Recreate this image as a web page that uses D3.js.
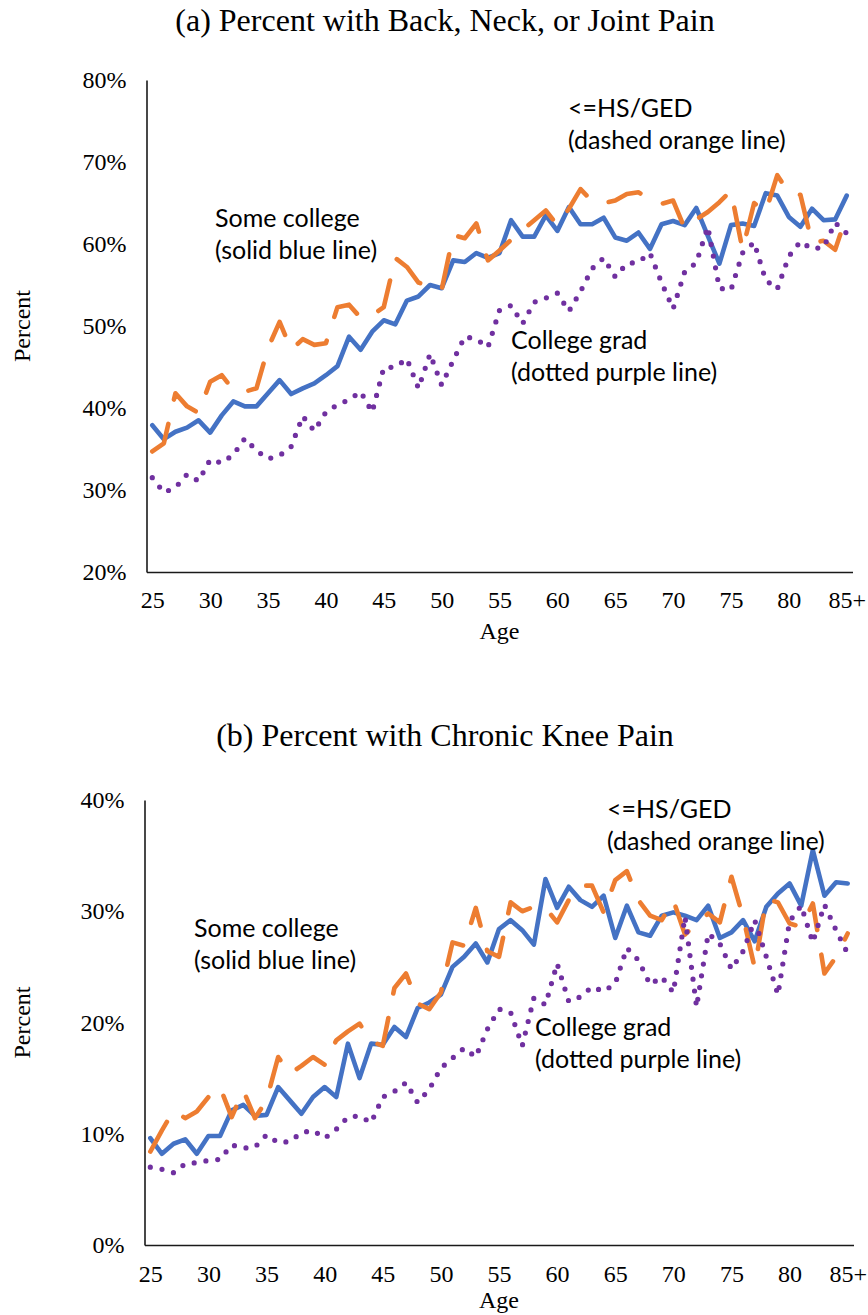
<!DOCTYPE html>
<html><head><meta charset="utf-8">
<script src="https://cdn.jsdelivr.net/npm/d3@7/dist/d3.min.js"></script>
<style>body{margin:0;background:#fff}</style>
</head><body>
<svg id="c" width="868" height="1315"></svg>
<script>
// ---------- data ----------
const ages = [25,26,27,28,29,30,31,32,33,34,35,36,37,38,39,40,41,42,43,44,45,46,47,48,49,50,51,52,53,54,55,56,57,58,59,60,61,62,63,64,65,66,67,68,69,70,71,72,73,74,75,76,77,78,79,80,81,82,83,84,85];
const tickAges = [25,30,35,40,45,50,55,60,65,70,75,80,85];
const tickAgeLabels = ["25","30","35","40","45","50","55","60","65","70","75","80","85+"];

// (a) Back, neck, or joint pain (%)
const someCollegeA = [37.9,36.2,37.1,37.6,38.5,37.0,39.1,40.8,40.2,40.2,41.8,43.4,41.7,42.4,43.0,44.0,45.1,48.7,47.1,49.3,50.7,50.2,53.1,53.6,55.0,54.6,58.0,57.8,58.9,58.3,58.9,62.9,60.9,60.9,63.5,61.6,64.5,62.4,62.4,63.2,60.8,60.4,61.4,59.4,62.4,62.8,62.3,64.4,61.0,57.6,62.3,62.5,62.2,66.2,65.9,63.3,62.1,64.3,62.9,63.0,65.9];
const hsGedA = [34.7,35.7,41.8,40.2,39.4,43.2,44.0,42.2,42.0,42.4,47.3,50.5,47.1,48.4,47.7,47.9,52.3,52.6,51.0,51.3,52.3,58.3,57.2,55.3,54.8,54.4,61.1,60.7,62.5,58.0,59.2,60.5,61.7,62.9,64.1,62.3,64.3,66.7,65.2,65.0,65.3,66.1,66.3,65.5,64.9,65.3,61.9,63.0,63.9,65.1,66.5,59.3,65.0,63.9,68.4,66.2,66.0,60.1,60.4,59.3,63.5];
const collegeGradA = [31.5,29.7,30.3,31.9,31.1,33.7,33.3,34.3,36.3,34.8,33.8,34.2,35.3,39.0,37.2,39.5,40.4,41.0,42.0,39.5,44.9,45.0,46.0,42.4,46.6,42.8,45.8,48.7,48.4,47.4,51.9,52.5,50.3,52.9,53.4,54.0,51.8,54.2,57.0,58.3,56.0,57.6,57.8,58.9,55.3,52.1,56.6,57.7,62.1,54.6,54.4,58.9,60.2,55.6,54.5,58.5,60.3,59.4,59.6,62.6,61.3];
const yTicksA = [20,30,40,50,60,70,80];

// (b) Chronic knee pain (%)
const someCollegeB = [9.6,8.2,9.1,9.5,8.2,9.8,9.8,12.1,12.6,11.6,11.7,14.2,13.0,11.8,13.3,14.2,13.3,18.1,15.0,18.1,18.0,19.6,18.7,21.3,21.8,22.5,25.0,25.9,27.1,25.4,28.4,29.2,28.3,27.0,32.9,30.3,32.2,31.0,30.4,31.4,27.6,30.5,28.1,27.8,29.6,29.9,29.6,29.2,30.5,27.6,28.1,29.2,27.3,30.4,31.6,32.5,30.5,35.5,31.4,32.6,32.5];
const hsGedB = [8.4,10.3,12.1,11.4,12.0,13.3,14.2,11.5,13.9,11.4,13.0,16.9,15.4,16.1,16.9,16.2,18.4,19.2,19.9,18.3,17.9,23.1,24.4,21.7,21.2,22.7,27.2,26.9,30.3,26.4,25.9,30.8,30.0,30.4,30.3,29.0,31.0,32.3,32.3,29.9,32.8,33.6,31.0,29.6,29.2,31.0,27.9,28.9,29.8,29.0,33.1,29.5,24.9,31.1,30.8,28.9,28.6,30.7,24.4,25.9,28.0];
const collegeGradB = [7.0,6.8,6.5,7.3,7.4,7.6,7.7,9.0,8.7,8.8,9.9,9.2,9.3,10.1,10.3,9.6,10.4,11.5,11.6,11.0,13.3,13.8,14.6,12.8,14.0,15.9,16.8,17.7,16.9,19.4,21.2,20.9,17.9,22.2,21.6,25.3,21.9,22.3,23.2,22.8,23.5,26.7,25.6,23.4,24.1,22.7,29.5,21.4,28.0,27.1,24.8,26.4,29.2,25.9,22.5,29.1,30.5,27.2,30.6,28.3,26.2];
const yTicksB = [0,10,20,30,40];

const seriesNames = ["Some college","<=HS/GED","College grad"];
const seriesNotes = ["(solid blue line)","(dashed orange line)","(dotted purple line)"];
const titles = ["(a) Percent with Back, Neck, or Joint Pain","(b) Percent with Chronic Knee Pain"];

// ---------- styles ----------
const styles = [
  {color:"#4472C4", width:4.6, dash:null, cap:"round"},
  {color:"#ED7D31", width:4.6, dash:"34,25", cap:"round"},
  {color:"#7030A0", width:5.2, dash:"0,11.9", cap:"round"}
];
const SERIF = "'Liberation Serif','Times New Roman',serif";
const SANS = "Lato,'Noto Sans',sans-serif";

const svg = d3.select("#c");

function drawPanel(cfg){
  const g = svg.append("g");
  const x = d3.scalePoint().domain(ages).range([cfg.left, cfg.right]).padding(0.5);
  const y = d3.scaleLinear().domain([cfg.yTicks[0], cfg.yTicks[cfg.yTicks.length-1]]).range([cfg.bottom, cfg.top]);

  // title
  g.append("text").attr("x", cfg.titleX).attr("y", cfg.titleY)
    .attr("text-anchor","middle").style("font-family",SERIF).style("font-size","32px")
    .text(cfg.title);

  // lines: blue, orange, purple
  [0,1,2].forEach(k=>{
    const st = styles[k];
    const line = d3.line().x((d,i)=>x(ages[i])).y(d=>y(d)).curve(d3.curveLinear);
    g.append("path").datum(cfg.series[k])
      .attr("d", line).attr("fill","none")
      .attr("stroke", st.color).attr("stroke-width", st.width)
      .attr("stroke-linejoin","round").attr("stroke-linecap", st.cap)
      .attr("stroke-dasharray", st.dash);
  });

  // axes
  const yAxis = d3.axisLeft(y).tickValues(cfg.yTicks).tickSize(0).tickPadding(20)
    .tickFormat(d=>d+"%");
  const ya = g.append("g").attr("transform",`translate(${cfg.left},0)`).call(yAxis);
  ya.select(".domain").attr("stroke","#1a1a1a").attr("stroke-width",1.6);
  ya.selectAll("text").style("font-family",SERIF).style("font-size","24px").attr("fill","#000");

  const xAxis = d3.axisBottom(x).tickValues(tickAges).tickSize(0).tickPadding(cfg.xPad)
    .tickFormat(d=>tickAgeLabels[tickAges.indexOf(d)]);
  const xa = g.append("g").attr("transform",`translate(0,${cfg.bottom})`).call(xAxis);
  xa.select(".domain").attr("stroke","#1a1a1a").attr("stroke-width",1.6);
  xa.selectAll("text").style("font-family",SERIF).style("font-size","24px").attr("fill","#000");

  // axis titles
  g.append("text").attr("x", (cfg.left+cfg.right)/2).attr("y", cfg.ageY)
    .attr("text-anchor","middle").style("font-family",SERIF).style("font-size","24px").text("Age");
  g.append("text").attr("transform",`translate(30,${(cfg.top+cfg.bottom)/2}) rotate(-90)`)
    .attr("text-anchor","middle").style("font-family",SERIF).style("font-size","24px").text("Percent");

  // annotations
  cfg.notes.forEach(n=>{
    const t = g.append("text").style("font-family",SANS).style("font-size","25px").attr("fill","#000");
    t.append("tspan").attr("x",n.x).attr("y",n.y).text(seriesNames[n.k]);
    t.append("tspan").attr("x",n.x).attr("y",n.y+32).text(seriesNotes[n.k]);
  });
}

drawPanel({
  title: titles[0], titleX: 445, titleY: 31,
  left:146.5, right:852.5, top:80, bottom:572, xPad:19, ageY:639,
  yTicks: yTicksA,
  series:[someCollegeA, hsGedA, collegeGradA],
  notes:[{k:0,x:215,y:227},{k:1,x:568,y:117},{k:2,x:511,y:349}]
});
drawPanel({
  title: titles[1], titleX: 445, titleY: 746,
  left:144.5, right:853.5, top:800, bottom:1245, xPad:20, ageY:1308,
  yTicks: yTicksB,
  series:[someCollegeB, hsGedB, collegeGradB],
  notes:[{k:0,x:194,y:937},{k:1,x:607,y:818},{k:2,x:535,y:1036}]
});
</script>
</body></html>
